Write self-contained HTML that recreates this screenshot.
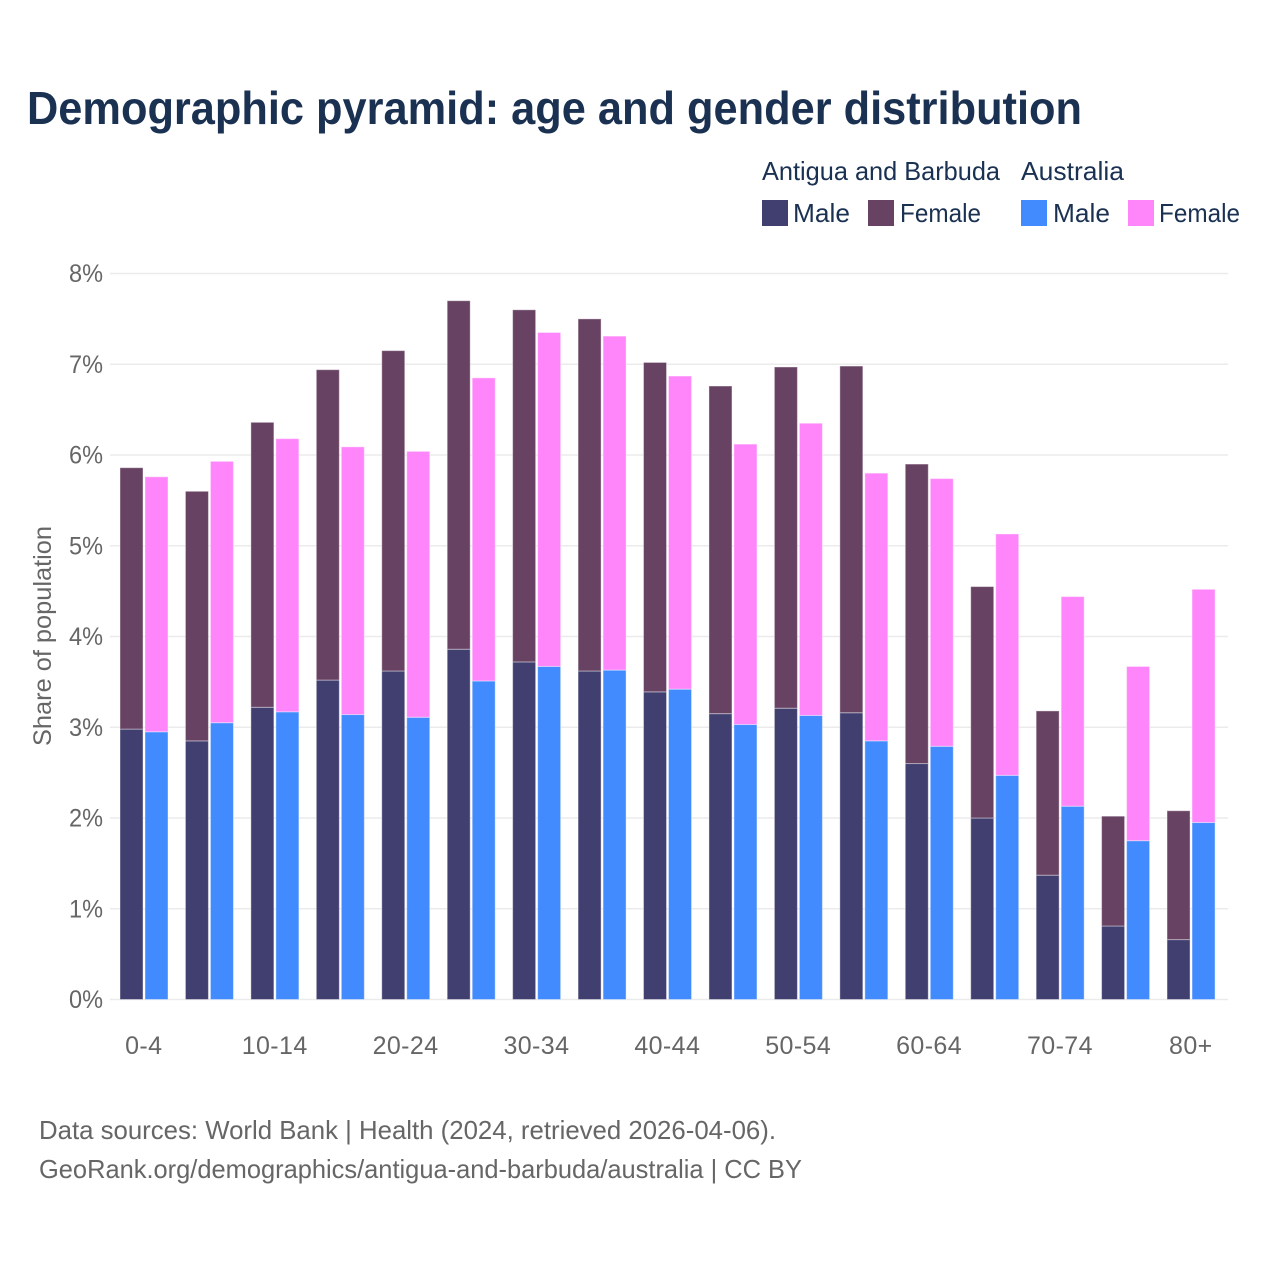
<!DOCTYPE html>
<html lang="en">
<head>
<meta charset="utf-8">
<title>Demographic pyramid</title>
<style>
html,body{margin:0;padding:0;background:#fff;}
svg{display:block;font-family:"Liberation Sans",sans-serif;}
.title{font-size:46px;font-weight:700;fill:#1a3152;}
.legend{font-size:26px;fill:#1a3152;}
.tick{font-size:25px;fill:#666;}
.xtick{font-size:25px;fill:#666;letter-spacing:0.4px;}
.foot{font-size:26px;fill:#666;}
</style>
</head>
<body>
<svg id="chart" width="1280" height="1280" viewBox="0 0 1280 1280" xmlns="http://www.w3.org/2000/svg">
  <rect width="1280" height="1280" fill="#fff"/>
  <text class="title" x="27" y="124" textLength="1055" lengthAdjust="spacingAndGlyphs">Demographic pyramid: age and gender distribution</text>
  <g>
    <text class="legend" x="762" y="180" textLength="238" lengthAdjust="spacingAndGlyphs">Antigua and Barbuda</text>
    <text class="legend" x="1021" y="180" textLength="103" lengthAdjust="spacingAndGlyphs">Australia</text>
    <rect x="762" y="200" width="26" height="26" fill="#413f70"/>
    <text class="legend" x="793" y="222" textLength="57" lengthAdjust="spacingAndGlyphs">Male</text>
    <rect x="868" y="200" width="26" height="26" fill="#674263"/>
    <text class="legend" x="900" y="222" textLength="81" lengthAdjust="spacingAndGlyphs">Female</text>
    <rect x="1021" y="200" width="26" height="26" fill="#418bff"/>
    <text class="legend" x="1053" y="222" textLength="57" lengthAdjust="spacingAndGlyphs">Male</text>
    <rect x="1128" y="200" width="26" height="26" fill="#ff86fa"/>
    <text class="legend" x="1159" y="222" textLength="81" lengthAdjust="spacingAndGlyphs">Female</text>
  </g>
  <g id="grid"></g>
  <g id="bars"></g>
  <g id="yticks"></g>
  <g id="xticks"></g>
  <text class="tick" transform="translate(51 636) rotate(-90)" text-anchor="middle" textLength="220" lengthAdjust="spacingAndGlyphs">Share of population</text>
  <text class="foot" x="39" y="1139" textLength="737" lengthAdjust="spacingAndGlyphs">Data sources: World Bank | Health (2024, retrieved 2026-04-06).</text>
  <text class="foot" x="39" y="1178" textLength="763" lengthAdjust="spacingAndGlyphs">GeoRank.org/demographics/antigua-and-barbuda/australia | CC BY</text>
</svg>
<script>
const ageGroups = ["0-4","5-9","10-14","15-19","20-24","25-29","30-34","35-39","40-44","45-49","50-54","55-59","60-64","65-69","70-74","75-79","80+"];
const antiguaMale = [2.98,2.85,3.22,3.52,3.62,3.86,3.72,3.62,3.39,3.15,3.21,3.16,2.60,2.00,1.37,0.81,0.66];
const antiguaFemale = [2.88,2.75,3.14,3.42,3.53,3.84,3.88,3.88,3.63,3.61,3.76,3.82,3.30,2.55,1.81,1.21,1.42];
const australiaMale = [2.95,3.05,3.17,3.14,3.11,3.51,3.67,3.63,3.42,3.03,3.13,2.85,2.79,2.47,2.13,1.75,1.95];
const australiaFemale = [2.81,2.88,3.01,2.95,2.93,3.34,3.68,3.68,3.45,3.09,3.22,2.95,2.95,2.66,2.31,1.92,2.57];
const yTickValues = [0,1,2,3,4,5,6,7,8];
const xLabelEvery = 2;

const NS = 'http://www.w3.org/2000/svg';
const plot = {x0:120, step:65.44, barW:23, barGap:25, yZero:999.5, unit:90.75, gridLeft:110, gridRight:1228};
function xPos(i, seriesIndex){ return plot.x0 + i*plot.step + seriesIndex*plot.barGap; }
function yPos(v){ return plot.yZero - v*plot.unit; }
function mk(tag, parent, attrs){
  const el = document.createElementNS(NS, tag);
  for (const k in attrs) el.setAttribute(k, attrs[k]);
  parent.appendChild(el);
  return el;
}
const grid = document.getElementById('grid');
const yticks = document.getElementById('yticks');
const xticks = document.getElementById('xticks');
const bars = document.getElementById('bars');

yTickValues.forEach(function(v){
  const y = yPos(v);
  const line = mk('line', grid, {x1:plot.gridLeft, x2:plot.gridRight, y1:y, y2:y, stroke:'#ebebeb', 'stroke-width':1.4});
  
  
  const t = mk('text', yticks, {x:103, y:y+8.5, 'text-anchor':'end', class:'tick', textLength:34, lengthAdjust:'spacingAndGlyphs'});
  t.textContent = v + '%';
  
  
});

function drawBar(i, seriesIndex, base, value, fill){
  const r = mk('rect', bars, {
    x: xPos(i, seriesIndex),
    y: yPos(base + value),
    width: plot.barW,
    height: value * plot.unit,
    fill: fill,
    stroke: '#fff',
    'stroke-opacity': 0.4,
    'stroke-width': 1
  });
  return r;
}
ageGroups.forEach(function(label, i){
  const a = drawBar(i, 0, 0, antiguaMale[i], '#413f70');
  
  
  const b = drawBar(i, 0, antiguaMale[i], antiguaFemale[i], '#674263');
  
  
  const c = drawBar(i, 1, 0, australiaMale[i], '#418bff');
  
  
  const d = drawBar(i, 1, australiaMale[i], australiaFemale[i], '#ff86fa');
  
  
  if (i % xLabelEvery === 0) {
    const t = mk('text', xticks, {x: xPos(i,0) + (plot.barW + plot.barGap)/2 - 0.2, y: 1054, 'text-anchor':'middle', class:'xtick'});
    t.textContent = label;
    
    
  }
});
</script>
</body>
</html>
